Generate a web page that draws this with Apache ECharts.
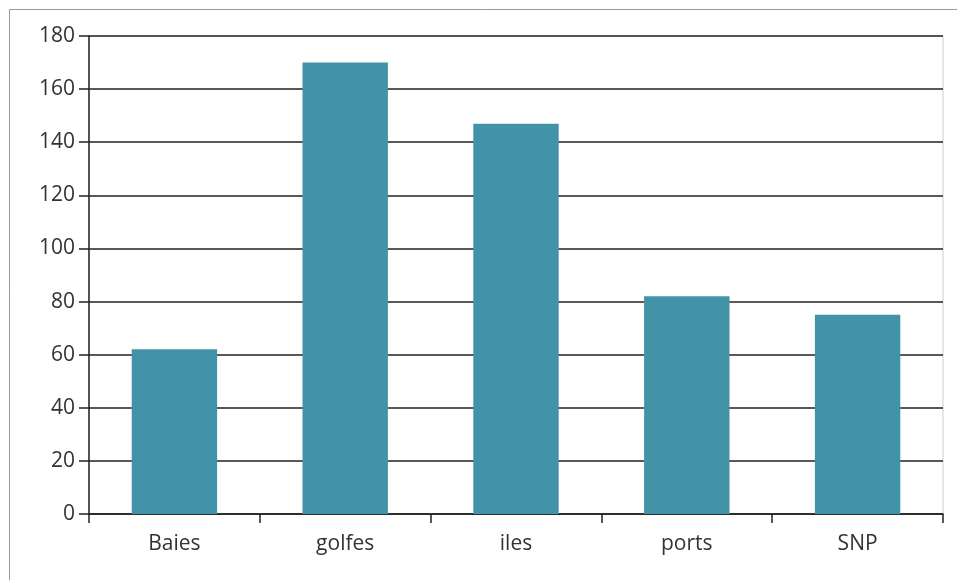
<!DOCTYPE html>
<html>
<head>
<meta charset="utf-8">
<script src="https://cdn.jsdelivr.net/npm/echarts@6/dist/echarts.min.js"></script>
<style>
  html, body { margin: 0; padding: 0; background: #fff; }
  #chart { width: 957px; height: 580px; }
</style>
</head>
<body>
<div id="chart"></div>
<script>
// Categories and counts per category
const categories = ['Baies', 'golfes', 'iles', 'ports', 'SNP'];
const values = [62, 170, 147, 82, 75];
const yTicks = { min: 0, max: 180, interval: 20 };

const chart = echarts.init(document.getElementById('chart'), null, { renderer: 'canvas' });
const labelFont = '"Open Sans", "Noto Sans", sans-serif';

chart.setOption({
  animation: false,
  backgroundColor: '#fff',
  graphic: [{
    type: 'rect',
    shape: { x: 9.5, y: 9.5, width: 1000, height: 1000 },
    style: { fill: 'none', stroke: '#9a9a9a', lineWidth: 1 },
    silent: true
  }],
  grid: {
    left: 89, right: 14, top: 36, bottom: 66,
    show: true, borderColor: '#cfcfcf', borderWidth: 1, backgroundColor: 'transparent'
  },
  xAxis: {
    type: 'category',
    data: categories,
    boundaryGap: true,
    axisLine: { lineStyle: { color: '#222', width: 1.5 } },
    axisTick: { show: true, length: 9, lineStyle: { color: '#222', width: 1.5 } },
    axisLabel: { color: '#333', fontSize: 21, fontFamily: labelFont, margin: 20 }
  },
  yAxis: {
    type: 'value',
    min: yTicks.min, max: yTicks.max, interval: yTicks.interval,
    axisLine: { show: true, lineStyle: { color: '#222', width: 1.5 } },
    axisTick: { show: true, length: 10, lineStyle: { color: '#222', width: 1.5 } },
    axisLabel: { color: '#333', fontSize: 21, fontFamily: labelFont, margin: 14 },
    splitLine: { show: true, lineStyle: { color: '#222', width: 1.5 } }
  },
  series: [{
    type: 'bar',
    data: values,
    barWidth: '50%',
    itemStyle: { color: '#4293a8' }
  }]
});
</script>
</body>
</html>
